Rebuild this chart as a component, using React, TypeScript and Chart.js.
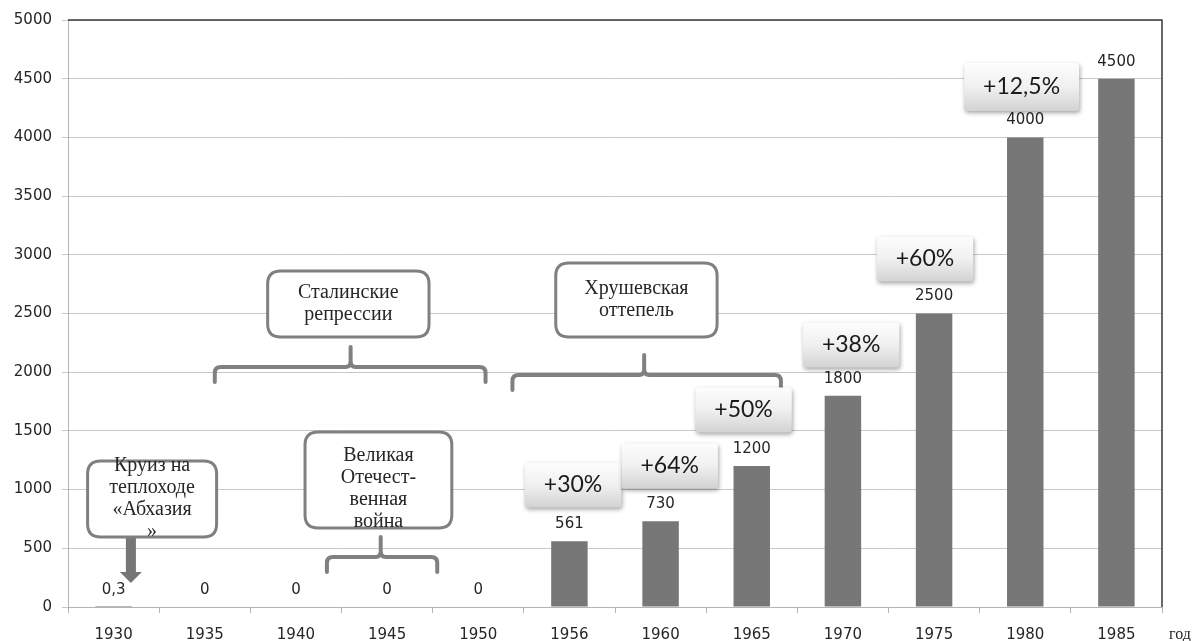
import React, { useEffect, useRef } from "react";
import { Chart, registerables } from "chart.js";

Chart.register(...registerables);

// ---- data ----
const years = ["1930", "1935", "1940", "1945", "1950", "1956", "1960", "1965", "1970", "1975", "1980", "1985"];
const values = [0.3, 0, 0, 0, 0, 561, 730, 1200, 1800, 2500, 4000, 4500];
const valueLabels = ["0,3", "0", "0", "0", "0", "561", "730", "1200", "1800", "2500", "4000", "4500"];
const yMin = 0;
const yMax = 5000;
const yStep = 500;
const axisTitle = "год";

// growth call-outs (category index, value)
const percentLabels = ["+30%", "+64%", "+50%", "+38%", "+60%", "+12,5%"];
const percentX = [5.04, 6.1, 6.91, 8.09, 8.9, 9.96];
const percentY = [1039, 1201, 1678, 2232, 2964, 4429];

// period notes (category index range, value range)
const noteTexts = [
  ["Круиз на", "теплоходе", "«Абхазия", "»"],
  ["Великая", "Отечест-", "венная", "война"],
  ["Сталинские", "репрессии"],
  ["Хрушевская", "оттепель"],
];
const noteX0 = [-0.285, 2.1, 1.69, 4.85];
const noteX1 = [1.13, 3.71, 3.46, 6.62];
const noteYTop = [1244, 1491, 2862, 2930];
const noteYBottom = [596, 673, 2300, 2300];

// braces (category index range, middle, value level)
const braceX0 = [2.34, 1.11, 4.375];
const braceX1 = [3.55, 4.08, 7.32];
const braceMid = [2.93, 2.6, 5.82];
const braceY = [426, 2044, 1976];

// arrow from cruise note to the 1930 bar
const arrowX = 0.19;
const arrowFrom = 596;
const arrowTo = 204;

const GRAY = "#808080";

function roundRectPath(ctx: CanvasRenderingContext2D, x: number, y: number, w: number, h: number, r: number) {
  ctx.beginPath();
  ctx.moveTo(x + r, y);
  ctx.lineTo(x + w - r, y);
  ctx.quadraticCurveTo(x + w, y, x + w, y + r);
  ctx.lineTo(x + w, y + h - r);
  ctx.quadraticCurveTo(x + w, y + h, x + w - r, y + h);
  ctx.lineTo(x + r, y + h);
  ctx.quadraticCurveTo(x, y + h, x, y + h - r);
  ctx.lineTo(x, y + r);
  ctx.quadraticCurveTo(x, y, x + r, y);
  ctx.closePath();
}

const decorPlugin = {
  id: "decor",
  afterDatasetsDraw(chart: any) {
    const ctx: CanvasRenderingContext2D = chart.ctx;
    const xs = chart.scales.x;
    const ys = chart.scales.y;
    const area = chart.chartArea;
    const px = (v: number) => xs.getPixelForValue(v);
    const py = (v: number) => ys.getPixelForValue(v);
    ctx.save();

    // frame: top and right
    ctx.strokeStyle = "#3a3a3a";
    ctx.lineWidth = 1.5;
    ctx.beginPath();
    ctx.moveTo(area.left, area.top);
    ctx.lineTo(area.right, area.top);
    ctx.lineTo(area.right, area.bottom);
    ctx.stroke();

    // value labels
    const meta = chart.getDatasetMeta(0);
    ctx.fillStyle = "#262626";
    ctx.font = "15px 'DejaVu Sans'";
    ctx.textAlign = "center";
    ctx.textBaseline = "middle";
    meta.data.forEach((bar: any, i: number) => {
      ctx.fillText(valueLabels[i], bar.x, bar.y - 17);
    });

    // braces
    ctx.strokeStyle = GRAY;
    ctx.lineWidth = 4;
    ctx.lineCap = "round";
    ctx.lineJoin = "round";
    for (let i = 0; i < braceY.length; i++) {
      const x0 = px(braceX0[i]);
      const x1 = px(braceX1[i]);
      const xm = px(braceMid[i]);
      const y = py(braceY[i]);
      const drop = 15;
      const rise = 20;
      const r = 6;
      ctx.beginPath();
      ctx.moveTo(x0, y + drop);
      ctx.lineTo(x0, y + r);
      ctx.quadraticCurveTo(x0, y, x0 + r, y);
      ctx.lineTo(xm - 5, y);
      ctx.quadraticCurveTo(xm, y, xm, y - 6);
      ctx.lineTo(xm, y - rise);
      ctx.moveTo(x1, y + drop);
      ctx.lineTo(x1, y + r);
      ctx.quadraticCurveTo(x1, y, x1 - r, y);
      ctx.lineTo(xm + 5, y);
      ctx.quadraticCurveTo(xm, y, xm, y - 6);
      ctx.stroke();
    }

    // arrow
    {
      const ax = px(arrowX);
      const y0 = py(arrowFrom);
      const y1 = py(arrowTo);
      ctx.fillStyle = "#767676";
      ctx.beginPath();
      ctx.moveTo(ax - 5, y0);
      ctx.lineTo(ax + 5, y0);
      ctx.lineTo(ax + 5, y1 - 11);
      ctx.lineTo(ax + 11, y1 - 11);
      ctx.lineTo(ax, y1);
      ctx.lineTo(ax - 11, y1 - 11);
      ctx.lineTo(ax - 5, y1 - 11);
      ctx.closePath();
      ctx.fill();
    }

    // note boxes
    for (let i = 0; i < noteTexts.length; i++) {
      const x0 = px(noteX0[i]);
      const x1 = px(noteX1[i]);
      const y0 = py(noteYTop[i]);
      const y1 = py(noteYBottom[i]);
      roundRectPath(ctx, x0, y0, x1 - x0, y1 - y0, 13);
      ctx.fillStyle = "#ffffff";
      ctx.fill();
      ctx.strokeStyle = GRAY;
      ctx.lineWidth = 3;
      ctx.stroke();
      const lines = noteTexts[i];
      const lh = 22;
      const cx = (x0 + x1) / 2;
      const extra = i === 1 ? 9 : 0;
      const cy = (y0 + y1) / 2 + extra;
      ctx.fillStyle = "#262626";
      ctx.font = "20px 'Liberation Serif'";
      ctx.textAlign = "center";
      ctx.textBaseline = "middle";
      lines.forEach((t, k) => {
        ctx.fillText(t, cx, cy + (k - (lines.length - 1) / 2) * lh);
      });
    }

    // percent boxes
    ctx.font = "23px Lato";
    for (let i = 0; i < percentLabels.length; i++) {
      const cx = px(percentX[i]);
      const cy = py(percentY[i]);
      const tw = ctx.measureText(percentLabels[i]).width;
      const w = tw + 38;
      const h = i === percentLabels.length - 1 ? 48 : 45;
      const x = cx - w / 2;
      const y = cy - h / 2;
      ctx.save();
      ctx.shadowColor = "rgba(0,0,0,0.35)";
      ctx.shadowBlur = 4;
      ctx.shadowOffsetX = 1;
      ctx.shadowOffsetY = 2;
      const g = ctx.createLinearGradient(0, y, 0, y + h);
      g.addColorStop(0, "#fdfdfd");
      g.addColorStop(0.5, "#f0f0f0");
      g.addColorStop(1, "#d2d2d2");
      ctx.fillStyle = g;
      roundRectPath(ctx, x, y, w, h, 3);
      ctx.fill();
      ctx.restore();
      ctx.fillStyle = "#1a1a1a";
      ctx.textAlign = "center";
      ctx.textBaseline = "middle";
      ctx.fillText(percentLabels[i], cx, cy);
    }

    // axis title
    ctx.fillStyle = "#262626";
    ctx.font = "16px 'Liberation Serif'";
    ctx.textAlign = "center";
    ctx.textBaseline = "middle";
    ctx.fillText(axisTitle, area.right + 18, area.bottom + 28);

    ctx.restore();
  },
};

export default function App() {
  const ref = useRef<HTMLCanvasElement | null>(null);
  useEffect(() => {
    if (!ref.current) return;
    const chart = new Chart(ref.current, {
      type: "bar",
      data: {
        labels: years,
        datasets: [
          {
            data: values,
            backgroundColor: "#777777",
            borderWidth: 0,
            categoryPercentage: 1,
            barPercentage: 0.4,
          },
        ],
      },
      options: {
        animation: false,
        responsive: false,
        devicePixelRatio: 1,
        layout: { padding: { top: 20, right: 35, left: 0, bottom: 0 } },
        plugins: { legend: { display: false }, tooltip: { enabled: false }, title: { display: false } },
        scales: {
          x: {
            offset: true,
            grid: { display: true, drawOnChartArea: false, drawTicks: true, tickLength: 6, color: "#b4b4b4", offset: true },
            border: { display: true, color: "#b4b4b4" },
            ticks: { color: "#262626", font: { family: "'DejaVu Sans'", size: 15 }, padding: 13, maxRotation: 0, autoSkip: false },
            afterFit: (s: any) => {
              s.height = 34;
            },
          },
          y: {
            min: yMin,
            max: yMax,
            grid: { color: "#c8c8c8", tickLength: 6, drawTicks: true },
            border: { display: true, color: "#b4b4b4" },
            ticks: {
              stepSize: yStep,
              color: "#262626",
              font: { family: "'DejaVu Sans'", size: 15 },
              padding: 10,
              callback: (v: any) => String(v),
            },
            afterFit: (s: any) => {
              s.width = 68;
            },
          },
        },
      },
      plugins: [decorPlugin],
    });
    return () => chart.destroy();
  }, []);
  return (
    <div style={{ position: "fixed", left: 0, top: 0, width: 1197, height: 641, background: "#fff" }}>
      <canvas ref={ref} width={1197} height={641} style={{ display: "block" }} />
    </div>
  );
}
